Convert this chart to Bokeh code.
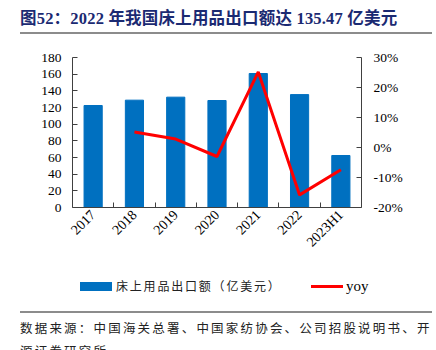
import math
from bokeh.plotting import figure
from bokeh.layouts import column
from bokeh.models import Range1d, LinearAxis, FixedTicker, NumeralTickFormatter, Div
from bokeh.embed import file_html
from bokeh.resources import INLINE

years = ["2017", "2018", "2019", "2020", "2021", "2022", "2023H1"]
exports = [122.4, 128.8, 132.4, 128.4, 160.8, 135.47, 62.4]
yoy_years = ["2018", "2019", "2020", "2021", "2022", "2023H1"]
yoy = [0.052, 0.028, -0.030, 0.252, -0.158, -0.074]
left_ticks = [0, 20, 40, 60, 80, 100, 120, 140, 160, 180]
right_ticks = [-0.2, -0.1, 0.0, 0.1, 0.2, 0.3]

title_text = "图52：2022 年我国床上用品出口额达 135.47 亿美元"
bar_label = "床上用品出口额（亿美元）"
line_label = "yoy"
source_line1 = "数据来源：中国海关总署、中国家纺协会、公司招股说明书、开"
source_line2 = "源证券研究所"

BAR_COLOR = "#0070C0"
LINE_COLOR = "#FF0000"
RULE_COLOR = "#8C8C8C"
serif = "Liberation Serif"
cjk = "Noto Sans CJK SC"
axis_color = "#404040"

W = 436
HEAD_H, MAIN_H, FOOT_H = 40, 230, 80

xpos = [i + 0.5 for i in range(len(years))]
ypos_line = [years.index(y) + 0.5 for y in yoy_years]

# ---- header ----
head_html = (
    f'<div style="position:relative;width:{W}px;height:{HEAD_H}px;overflow:hidden;">'
    f'<div style="position:absolute;left:20px;top:10px;white-space:nowrap;'
    f"font-family:'{serif}','{cjk}';font-weight:bold;font-size:16.5px;line-height:18px;"
    f'letter-spacing:0.2px;color:#1B2A72;">{title_text}</div>'
    f'<div style="position:absolute;left:20px;top:32px;width:412px;height:2px;'
    f'background:{RULE_COLOR};"></div></div>'
)
head = Div(text=head_html, width=W, height=HEAD_H, margin=0)

# ---- main chart ----
p = figure(width=W, height=MAIN_H, output_backend="svg", toolbar_location=None,
           x_range=Range1d(0, len(years)), y_range=Range1d(0, 180),
           min_border_left=72, min_border_right=75, min_border_top=17, min_border_bottom=63,
           y_axis_location=None, x_axis_location=None, margin=0)
p.outline_line_color = None
p.xgrid.visible = False
p.ygrid.visible = False
p.background_fill_color = "white"
p.border_fill_color = "white"
p.extra_y_ranges = {"yoy": Range1d(-0.2, 0.3)}

xa = LinearAxis(ticker=FixedTicker(ticks=xpos, minor_ticks=list(range(1, len(years)))),
                major_label_overrides={x: y for x, y in zip(xpos, years)})
xa.major_tick_in = 0
xa.major_tick_out = 0
xa.minor_tick_in = 5
xa.minor_tick_out = 0
xa.major_label_orientation = math.pi / 4
xa.major_label_text_font = serif
xa.major_label_text_font_size = "14px"
xa.major_label_text_color = "black"
xa.axis_line_color = axis_color
xa.minor_tick_line_color = axis_color
p.add_layout(xa, "below")

ya = LinearAxis(ticker=FixedTicker(ticks=left_ticks))
ya.major_tick_in = 5
ya.major_tick_out = 0
ya.minor_tick_in = 0
ya.minor_tick_out = 0
ya.major_label_text_font = serif
ya.major_label_text_font_size = "13.5px"
ya.major_label_text_color = "black"
ya.axis_line_color = axis_color
ya.major_tick_line_color = axis_color
ya.major_label_standoff = 11
p.add_layout(ya, "left")

ra = LinearAxis(y_range_name="yoy", ticker=FixedTicker(ticks=right_ticks),
                formatter=NumeralTickFormatter(format="0%"))
ra.major_tick_in = 5
ra.major_tick_out = 0
ra.minor_tick_in = 0
ra.minor_tick_out = 0
ra.major_label_text_font = serif
ra.major_label_text_font_size = "13.5px"
ra.major_label_text_color = "black"
ra.axis_line_color = axis_color
ra.major_tick_line_color = axis_color
ra.major_label_standoff = 12
p.add_layout(ra, "right")

p.vbar(x=xpos, top=exports, width=0.44, bottom=0, color=BAR_COLOR)
p.line(x=ypos_line, y=yoy, y_range_name="yoy", line_color=LINE_COLOR, line_width=3)

# ---- footer: legend, rule, source ----
src_style = (f"position:absolute;left:20px;white-space:nowrap;font-family:'{cjk}';"
             "font-size:12.5px;letter-spacing:2.2px;line-height:16px;color:#222222;")
foot_html = (
    f'<div style="position:relative;width:{W}px;height:{FOOT_H}px;overflow:hidden;">'
    f'<div style="position:absolute;left:80px;top:12px;width:32px;height:9px;background:{BAR_COLOR};"></div>'
    f'<div style="position:absolute;left:116px;top:8px;white-space:nowrap;font-family:\'{cjk}\';'
    f'font-size:12px;letter-spacing:1.8px;line-height:16px;color:#222222;">{bar_label}</div>'
    f'<div style="position:absolute;left:311px;top:15px;width:32px;height:3px;background:{LINE_COLOR};"></div>'
    f'<div style="position:absolute;left:346px;top:7px;white-space:nowrap;font-family:\'{serif}\';'
    f'font-size:15px;line-height:18px;color:black;">{line_label}</div>'
    f'<div style="position:absolute;left:20px;top:41px;width:412px;height:2px;background:{RULE_COLOR};"></div>'
    f'<div style="{src_style}top:50px;">{source_line1}</div>'
    f'<div style="{src_style}top:73px;">{source_line2}</div>'
    '</div>'
)
foot = Div(text=foot_html, width=W, height=FOOT_H, margin=0)

layout = column(head, p, foot, spacing=0, margin=0)
open("out.html", "w").write(file_html(layout, INLINE))
